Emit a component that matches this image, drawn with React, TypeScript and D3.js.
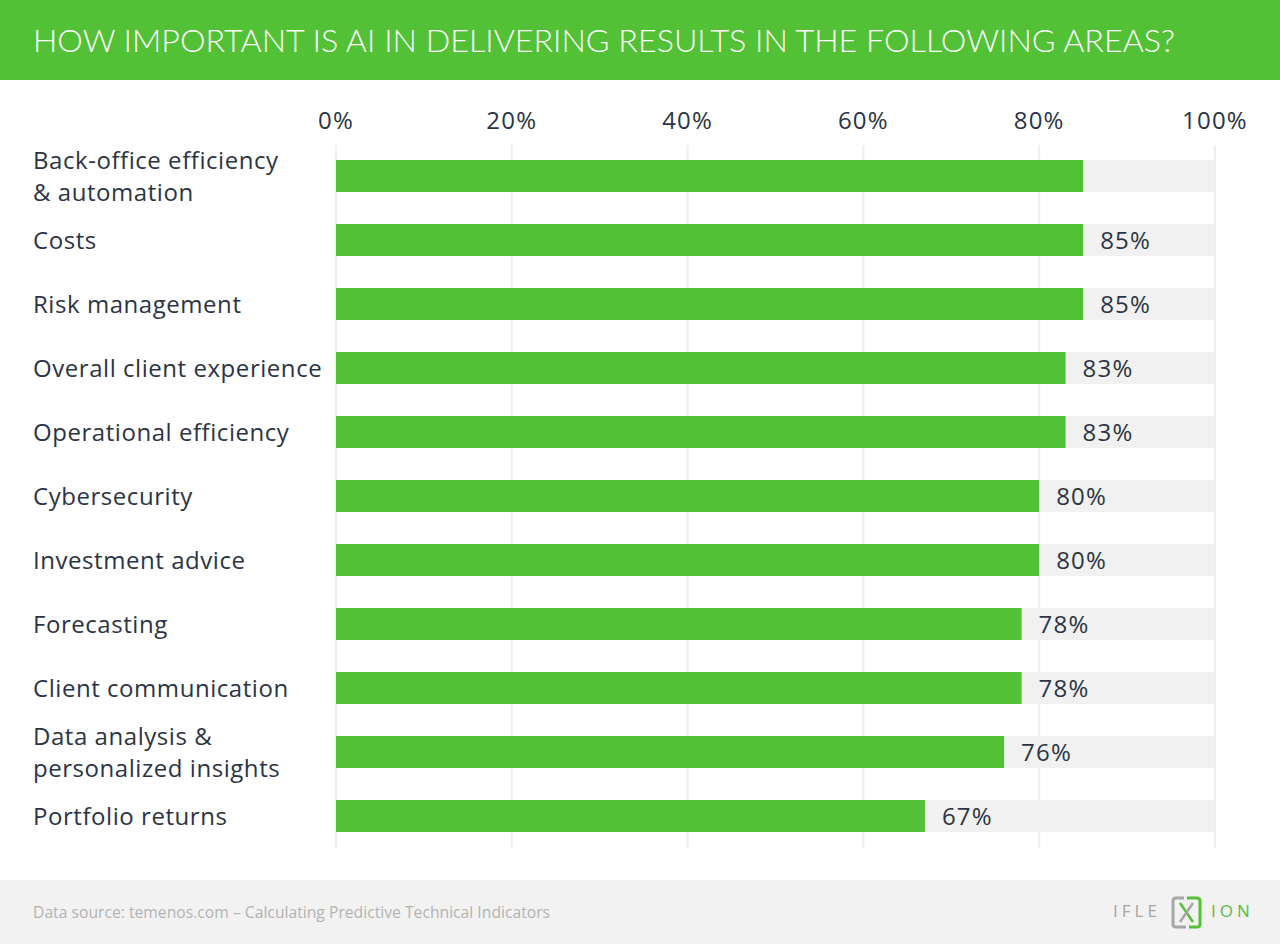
import React from "react";
import * as d3 from "d3";

const title = "HOW IMPORTANT IS AI IN DELIVERING RESULTS IN THE FOLLOWING AREAS?";
const categories = [
  ["Back-office efficiency", "& automation"],
  ["Costs"],
  ["Risk management"],
  ["Overall client experience"],
  ["Operational efficiency"],
  ["Cybersecurity"],
  ["Investment advice"],
  ["Forecasting"],
  ["Client communication"],
  ["Data analysis &", "personalized insights"],
  ["Portfolio returns"],
];
const values = [85, 85, 85, 83, 83, 80, 80, 78, 78, 76, 67];
const showLabel = [false, true, true, true, true, true, true, true, true, true, true];
const ticks = [0, 20, 40, 60, 80, 100];
const source = "Data source: temenos.com \u2013 Calculating Predictive Technical Indicators";

const W = 1280;
const H = 944;
const GREEN = "#52c136";
const DARK = "#2b3444";
const FONT = "'Open Sans', Lato, sans-serif";

export default function App() {
  const x = d3.scaleLinear().domain([0, 100]).range([336, 1215]);
  const y = d3
    .scaleBand<number>()
    .domain(d3.range(values.length))
    .range([144, 848])
    .paddingInner(0.5)
    .paddingOuter(0.25);
  const bw = y.bandwidth();

  return (
    <svg
      width={W}
      height={H}
      style={{ position: "absolute", left: 0, top: 0, display: "block" }}
      fontFamily={FONT}
    >
      <rect x={0} y={0} width={W} height={H} fill="#ffffff" />
      {/* header */}
      <rect x={0} y={0} width={W} height={80} fill={GREEN} />
      <text
        x={33}
        y={52}
        fill="#ffffff"
        fontSize={31}
        fontWeight={300}
        fontFamily="Lato, 'Open Sans', sans-serif"
        textLength={1142}
        lengthAdjust="spacingAndGlyphs"
      >
        {title}
      </text>

      {/* grid */}
      {ticks.map((t) => (
        <g key={t}>
          <line x1={x(t)} x2={x(t)} y1={145} y2={848} stroke="#eeeeee" strokeWidth={2} />
          <text
            x={x(t)}
            y={129}
            textAnchor="middle"
            fontSize={24}
            letterSpacing={1.2}
            fill={DARK}
          >
            {t}%
          </text>
        </g>
      ))}

      {/* bars */}
      {values.map((v, i) => {
        const top = y(i)!;
        const cy = top + bw / 2;
        const lines = categories[i];
        return (
          <g key={i}>
            <rect x={x(0)} y={top} width={x(100) - x(0)} height={bw} fill="#f1f1f1" />
            <rect x={x(0)} y={top} width={x(v) - x(0)} height={bw} fill={GREEN} />
            {showLabel[i] && (
              <text
                x={x(v) + 17}
                y={cy}
                dy="0.36em"
                fontSize={24}
                letterSpacing={1.2}
                fill={DARK}
              >
                {v}%
              </text>
            )}
            {lines.map((l, j) => (
              <text
                key={j}
                x={33}
                y={cy + (j - (lines.length - 1) / 2) * 32}
                dy="0.36em"
                fontSize={24}
                letterSpacing={0.55}
                fill={DARK}
              >
                {l}
              </text>
            ))}
          </g>
        );
      })}

      {/* footer */}
      <rect x={0} y={880} width={W} height={64} fill="#f2f2f2" />
      <text x={33} y={913} dy="0.35em" fontSize={15.7} fill="#b3b3b3">
        {source}
      </text>
      <g>
        <text x={1113} y={911} dy="0.35em" fontSize={17} fill="#a6a6a6" letterSpacing={4}>
          IFLE
        </text>
        <path
          d="M1184,898 L1176,898 Q1173,898 1173,901 L1173,924 Q1173,927 1176,927 L1186,927"
          fill="none"
          stroke="#a6a6a6"
          strokeWidth={3}
        />
        <path
          d="M1187,898 L1197,898 Q1200,898 1200,901 L1200,924 Q1200,927 1197,927 L1189,927"
          fill="none"
          stroke={GREEN}
          strokeWidth={3}
        />
        <path d="M1180,903 L1193,922" stroke={GREEN} strokeWidth={2.5} />
        <path d="M1193,903 L1180,922" stroke="#a6a6a6" strokeWidth={2.5} />
        <text x={1211} y={911} dy="0.35em" fontSize={17} fill={GREEN} letterSpacing={4}>
          ION
        </text>
      </g>
    </svg>
  );
}
